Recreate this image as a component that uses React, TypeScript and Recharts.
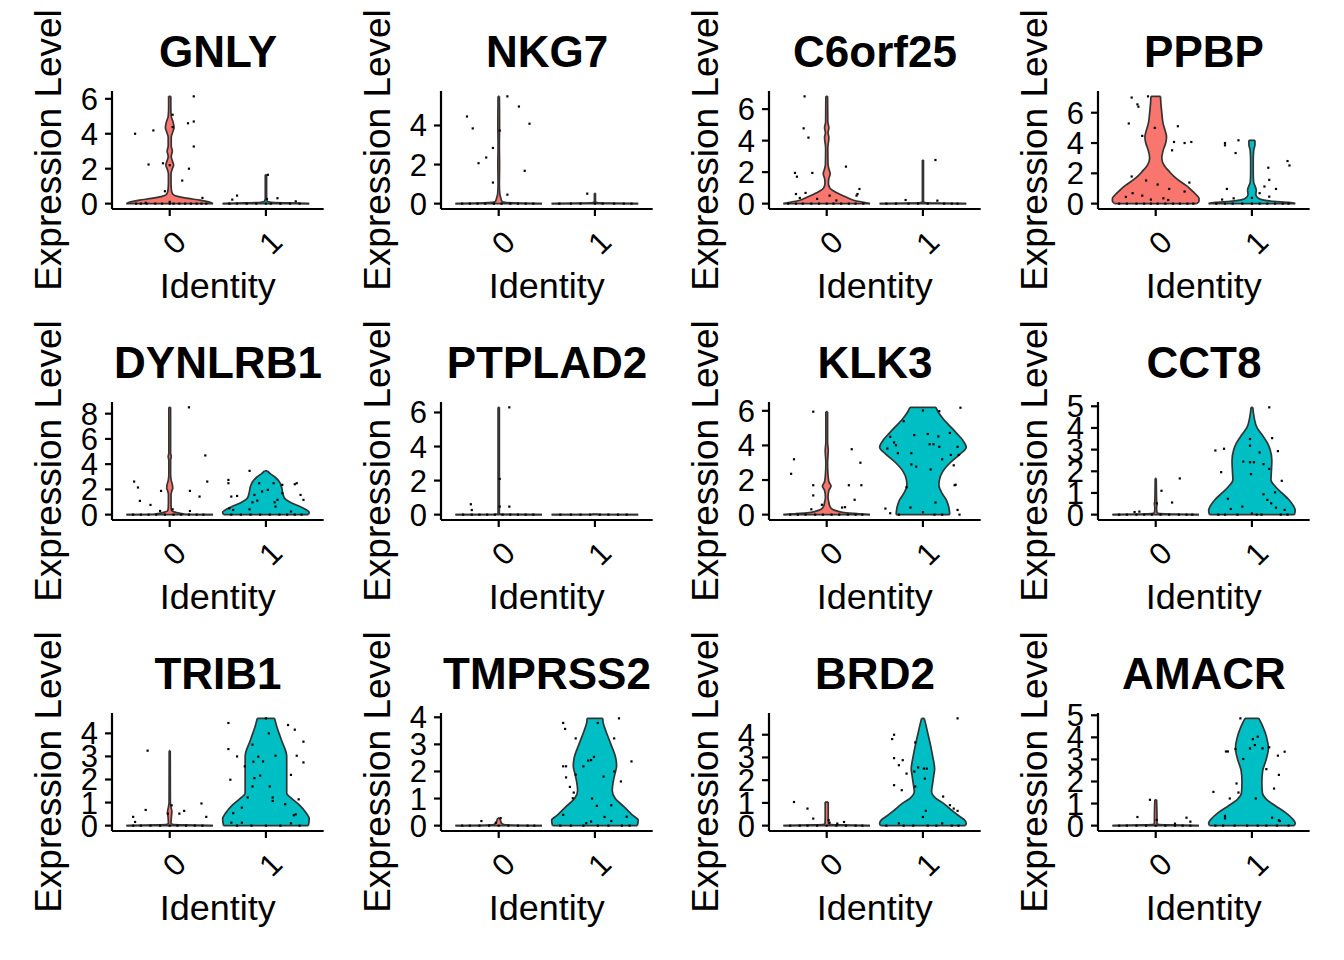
import React from "react";
import { ComposedChart, Area, Scatter, XAxis, YAxis, ReferenceLine, Label } from "recharts";

const FONT = '"Liberation Sans", Arial, Helvetica, sans-serif';
const FILLS = ["#F8766D", "#00BFC4"];
const OUTLINE = "#333333";
const IDENTS = [0, 1];

type Pair = [number, number];

// violin profiles: [expression, relative half-width (1 = widest)]
// points: [jitter offset, expression]

const GNLY_TICKS = [0, 2, 4, 6];
const GNLY_V0: Pair[] = [[0, 1], [0.1, 0.9], [0.2, 0.7], [0.3, 0.42], [0.4, 0.2], [0.5, 0.09], [0.65, 0.05], [0.9, 0.035], [1.2, 0.03], [1.7, 0.03], [2.0, 0.06], [2.2, 0.09], [2.45, 0.06], [2.7, 0.035], [3.0, 0.06], [3.3, 0.035], [3.8, 0.035], [4.1, 0.07], [4.35, 0.1], [4.65, 0.08], [5.0, 0.035], [5.5, 0.025], [6.14, 0.025]];
const GNLY_V1: Pair[] = [[0, 1], [0.04, 0.5], [0.08, 0.12], [0.15, 0.03], [0.3, 0.015], [1.65, 0.015]];
const GNLY_P0: Pair[] = [[-0.36, 4.0], [-0.17, 4.19], [-0.22, 2.24], [-0.07, 2.31], [0.03, 5.09], [0.25, 6.14], [0.19, 4.6], [0.25, 4.7], [0.25, 3.27], [0.2, 2.0], [0.13, 1.32], [-0.05, 0.71], [0.34, 0.33], [0.03, 4.38], [0, 2.2], [-0.25, 0.05], [0, 0.1], [-0.35, 0], [-0.3, 0], [-0.24, 0], [-0.15, 0], [-0.08, 0], [0, 0], [0.04, 0], [0.1, 0], [0.16, 0], [0.22, 0], [0.28, 0], [0.33, 0], [0.38, 0]];
const GNLY_P1: Pair[] = [[-0.3, 0.46], [-0.35, 0.23], [0.12, 0.31], [0.31, 0.13], [0.01, 0.27], [0.02, 1.65], [-0.38, 0], [-0.3, 0], [-0.2, 0], [-0.1, 0], [0, 0], [0.05, 0], [0.15, 0], [0.25, 0], [0.35, 0]];

const NKG7_TICKS = [0, 2, 4];
const NKG7_V0: Pair[] = [[0, 1], [0.03, 0.45], [0.06, 0.15], [0.1, 0.08], [0.2, 0.06], [0.35, 0.04], [0.5, 0.025], [1, 0.015], [2, 0.02], [3, 0.015], [4, 0.02], [5.49, 0.015]];
const NKG7_V1: Pair[] = [[0, 1], [0.03, 0.3], [0.06, 0.05], [0.1, 0.012], [0.53, 0.012]];
const NKG7_P0: Pair[] = [[-0.33, 4.46], [-0.27, 3.85], [-0.06, 2.85], [-0.13, 2.36], [-0.21, 2.07], [-0.06, 1.08], [0.09, 5.49], [0.21, 4.97], [0.32, 4.09], [0.27, 1.68], [0.09, 0.46], [0.01, 3.74], [-0.38, 0], [-0.3, 0], [-0.22, 0], [-0.14, 0], [-0.05, 0], [0.03, 0], [0.12, 0], [0.2, 0], [0.28, 0], [0.36, 0]];
const NKG7_P1: Pair[] = [[-0.08, 0.51], [-0.37, 0], [-0.25, 0], [-0.15, 0], [0, 0], [0.08, 0], [0.2, 0], [0.3, 0], [0.38, 0]];

const C6ORF25_TICKS = [0, 2, 4, 6];
const C6ORF25_V0: Pair[] = [[0, 1], [0.1, 0.82], [0.2, 0.64], [0.4, 0.46], [0.6, 0.3], [0.8, 0.16], [1.0, 0.07], [1.3, 0.04], [1.6, 0.05], [1.9, 0.08], [2.2, 0.05], [2.5, 0.03], [3.5, 0.025], [4.2, 0.05], [4.5, 0.03], [4.8, 0.05], [5.2, 0.025], [6.81, 0.02]];
const C6ORF25_V1: Pair[] = [[0, 1], [0.03, 0.3], [0.07, 0.05], [0.12, 0.012], [2.77, 0.012]];
const C6ORF25_P0: Pair[] = [[-0.23, 6.81], [-0.24, 4.78], [-0.19, 4.19], [-0.33, 1.95], [-0.31, 1.71], [-0.15, 1.95], [0.2, 2.35], [0.34, 0.93], [0.32, 0.61], [0.31, 0.51], [-0.32, 0.61], [-0.22, 0.68], [-0.28, 0.36], [0.03, 0.51], [-0.1, 0.3], [0.1, 0.2], [-0.4, 0], [-0.32, 0], [-0.25, 0], [-0.16, 0], [-0.08, 0], [0, 0], [0.07, 0], [0.15, 0], [0.23, 0], [0.3, 0], [0.38, 0]];
const C6ORF25_P1: Pair[] = [[0.13, 2.77], [0.15, 0.19], [-0.18, 0.23], [-0.38, 0], [-0.28, 0], [-0.15, 0], [-0.05, 0], [0.05, 0], [0.22, 0], [0.3, 0], [0.36, 0]];

const PPBP_TICKS = [0, 2, 4, 6];
const PPBP_V0: Pair[] = [[0, 0.95], [0.15, 1.0], [0.35, 1.0], [0.6, 0.93], [0.9, 0.82], [1.2, 0.7], [1.5, 0.55], [1.8, 0.42], [2.1, 0.32], [2.5, 0.2], [3.0, 0.14], [3.5, 0.17], [4.0, 0.23], [4.4, 0.25], [4.8, 0.22], [5.3, 0.17], [6.0, 0.14], [6.6, 0.12], [7.08, 0.11]];
const PPBP_V1: Pair[] = [[0, 1], [0.08, 0.85], [0.15, 0.5], [0.25, 0.25], [0.4, 0.13], [0.6, 0.09], [0.9, 0.1], [1.1, 0.08], [1.4, 0.04], [2.0, 0.03], [2.8, 0.03], [3.5, 0.04], [3.9, 0.07], [4.18, 0.07]];
const PPBP_P0: Pair[] = [[-0.25, 7.0], [-0.08, 7.08], [-0.19, 6.55], [-0.18, 6.4], [-0.28, 5.29], [-0.14, 4.47], [-0.01, 5.0], [0.23, 5.11], [0.19, 4.07], [0.17, 3.52], [0.3, 4.0], [0.37, 4.07], [-0.25, 1.79], [-0.1, 1.53], [0.02, 1.26], [0.14, 0.97], [0.35, 1.39], [0.3, 0.8], [-0.24, 0.69], [-0.14, 0.53], [-0.05, 0.27], [0.08, 0.35], [0.13, 0.24], [-0.31, 0.44], [-0.38, 0], [-0.3, 0], [-0.2, 0], [-0.12, 0], [-0.05, 0], [0.02, 0], [0.1, 0], [0.18, 0], [0.25, 0], [0.33, 0], [0.39, 0]];
const PPBP_P1: Pair[] = [[-0.28, 4.0], [-0.28, 3.85], [-0.14, 4.18], [-0.17, 3.34], [0.37, 2.81], [0.39, 2.52], [0.17, 2.37], [0.18, 1.57], [0.13, 1.13], [0.25, 0.97], [0.08, 0.69], [-0.26, 0.97], [-0.19, 0.35], [-0.31, 0.27], [0, 0.38], [0.18, 0.46], [-0.37, 0], [-0.28, 0], [-0.2, 0], [-0.1, 0], [0, 0], [0.08, 0], [0.16, 0], [0.24, 0], [0.32, 0], [0.38, 0]];

const DYNLRB1_TICKS = [0, 2, 4, 6, 8];
const DYNLRB1_V0: Pair[] = [[0, 1], [0.03, 0.35], [0.1, 0.25], [0.2, 0.12], [0.3, 0.05], [0.5, 0.035], [1.0, 0.03], [1.6, 0.03], [1.9, 0.05], [2.1, 0.07], [2.4, 0.06], [2.7, 0.035], [3.2, 0.02], [4.3, 0.02], [4.6, 0.035], [4.9, 0.02], [8.5, 0.02]];
const DYNLRB1_V1: Pair[] = [[0, 0.98], [0.2, 1.0], [0.4, 0.92], [0.7, 0.75], [1.0, 0.55], [1.3, 0.43], [1.7, 0.39], [2.2, 0.36], [2.6, 0.31], [3.0, 0.2], [3.25, 0.1], [3.47, 0.03]];
const DYNLRB1_P0: Pair[] = [[-0.37, 2.62], [-0.33, 2.15], [-0.31, 1.09], [-0.2, 0.77], [-0.09, 1.88], [0.2, 8.5], [0.37, 4.69], [0.39, 2.62], [0.21, 1.88], [0.31, 1.43], [-0.1, 0.29], [0.03, 0.42], [0.21, 0.29], [-0.38, 0], [-0.3, 0], [-0.22, 0], [-0.14, 0], [-0.05, 0], [0.04, 0], [0.12, 0], [0.2, 0], [0.28, 0], [0.35, 0]];
const DYNLRB1_P1: Pair[] = [[-0.17, 3.47], [-0.39, 2.75], [-0.39, 2.49], [-0.3, 1.48], [-0.36, 1.43], [-0.38, 0.5], [-0.34, 0.37], [-0.07, 2.49], [-0.04, 1.83], [-0.12, 1.56], [-0.09, 1.11], [0.02, 1.96], [0.08, 2.49], [0.17, 2.36], [0.17, 1.7], [0.12, 1.17], [0.09, 0.98], [0.1, 0.64], [0.26, 0.24], [0.3, 2.41], [0.32, 2.49], [0.36, 1.56], [0.39, 1.17], [-0.17, 0.42], [-0.14, 0.98], [-0.36, 0], [-0.26, 0], [-0.16, 0], [-0.06, 0], [0.04, 0], [0.14, 0], [0.22, 0], [0.3, 0], [0.37, 0]];

const PTPLAD2_TICKS = [0, 2, 4, 6];
const PTPLAD2_V0: Pair[] = [[0, 1], [0.02, 0.1], [0.05, 0.015], [6.3, 0.015]];
const PTPLAD2_V1: Pair[] = [[0, 1], [0.02, 0.08], [0.04, 0.01]];
const PTPLAD2_P0: Pair[] = [[0.11, 6.3], [0.01, 2.1], [-0.29, 0.61], [-0.28, 0.27], [0.11, 0.47], [0.01, 0.47], [-0.37, 0], [-0.28, 0], [-0.2, 0], [-0.12, 0], [-0.04, 0], [0.04, 0], [0.12, 0], [0.2, 0], [0.28, 0], [0.36, 0]];
const PTPLAD2_P1: Pair[] = [[-0.36, 0], [-0.25, 0], [-0.15, 0], [-0.05, 0], [0.05, 0], [0.14, 0], [0.24, 0], [0.33, 0]];

const KLK3_TICKS = [0, 2, 4, 6];
const KLK3_V0: Pair[] = [[0, 1], [0.05, 0.75], [0.1, 0.45], [0.2, 0.25], [0.3, 0.14], [0.5, 0.07], [0.7, 0.05], [1.0, 0.03], [1.4, 0.05], [1.65, 0.1], [1.9, 0.05], [2.3, 0.03], [3.0, 0.02], [3.7, 0.035], [4.2, 0.02], [5.95, 0.02]];
const KLK3_V1: Pair[] = [[0, 0.62], [0.4, 0.6], [0.8, 0.55], [1.2, 0.45], [1.7, 0.37], [2.0, 0.38], [2.5, 0.46], [3.0, 0.63], [3.5, 0.86], [3.9, 1.0], [4.3, 0.92], [4.7, 0.78], [5.0, 0.67], [5.5, 0.48], [5.9, 0.36], [6.2, 0.3]];
const KLK3_P0: Pair[] = [[-0.14, 5.95], [-0.34, 3.2], [-0.37, 2.36], [-0.14, 1.7], [-0.14, 1.11], [-0.05, 0.57], [0.26, 3.78], [0.35, 3.0], [0.23, 1.7], [0.36, 1.7], [0.29, 0.86], [0.16, 0.41], [0.19, 0.43], [-0.16, 0.31], [-0.38, 0], [-0.3, 0], [-0.22, 0], [-0.12, 0], [-0.04, 0], [0.05, 0], [0.13, 0], [0.22, 0], [0.3, 0], [0.37, 0]];
const KLK3_P1: Pair[] = [[0, 6.02], [0.17, 5.98], [0.39, 6.18], [-0.2, 5.4], [-0.34, 4.5], [-0.37, 3.82], [-0.3, 4.17], [-0.28, 4.01], [-0.26, 3.55], [-0.12, 3.55], [-0.09, 4.6], [0.05, 4.66], [0.16, 4.52], [0.07, 4.07], [0.11, 4.07], [0.17, 3.92], [0.28, 4.72], [0.36, 3.92], [0.37, 3.45], [0.2, 3.2], [0.29, 3.45], [-0.12, 2.9], [-0.07, 2.77], [0.08, 2.61], [0.32, 2.85], [0.34, 1.73], [0.33, 1.7], [-0.17, 1.58], [0.13, 0.7], [-0.13, 0.41], [0, 0.14], [0.36, 0.27], [-0.39, 0.35], [-0.34, 0.08], [0.38, 0], [0.12, 0], [0.2, 0], [-0.25, 0]];

const CCT8_TICKS = [0, 1, 2, 3, 4, 5];
const CCT8_V0: Pair[] = [[0, 1], [0.03, 0.3], [0.06, 0.06], [0.1, 0.03], [0.3, 0.02], [0.5, 0.03], [0.65, 0.02], [1.67, 0.012]];
const CCT8_V1: Pair[] = [[0, 0.98], [0.2, 1.0], [0.4, 0.96], [0.7, 0.85], [1.0, 0.69], [1.3, 0.54], [1.6, 0.44], [2.0, 0.45], [2.5, 0.46], [3.0, 0.42], [3.3, 0.36], [3.7, 0.23], [4.0, 0.12], [4.5, 0.05], [4.95, 0.02]];
const CCT8_P0: Pair[] = [[0.25, 1.67], [0.06, 1.1], [0.17, 0.56], [0.01, 0.52], [-0.22, 0.12], [-0.17, 0.14], [-0.38, 0], [-0.3, 0], [-0.2, 0], [-0.12, 0], [-0.04, 0], [0.05, 0], [0.14, 0], [0.24, 0], [0.32, 0], [0.38, 0]];
const CCT8_P1: Pair[] = [[0.18, 4.95], [0.21, 3.53], [-0.02, 3.49], [-0.02, 3.18], [-0.38, 2.96], [-0.29, 3.04], [0.27, 2.93], [0.08, 2.87], [-0.09, 2.45], [-0.02, 2.42], [0.02, 2.42], [0.12, 2.33], [0.18, 2.11], [-0.32, 1.96], [-0.01, 1.87], [0.31, 1.56], [0.24, 1.03], [0.12, 0.94], [-0.25, 0.73], [0.16, 0.68], [0.2, 0.52], [0.25, 0.32], [0.34, 0.22], [-0.1, 0.37], [-0.22, 0.26], [0, 0.06], [-0.35, 0], [-0.28, 0], [-0.15, 0], [0.05, 0], [0.1, 0], [0.3, 0], [0.37, 0]];

const TRIB1_TICKS = [0, 1, 2, 3, 4];
const TRIB1_V0: Pair[] = [[0, 1], [0.03, 0.3], [0.06, 0.06], [0.1, 0.03], [0.4, 0.04], [0.6, 0.05], [0.8, 0.03], [1.0, 0.015], [3.25, 0.012]];
const TRIB1_V1: Pair[] = [[0, 0.98], [0.3, 1.0], [0.55, 0.93], [0.9, 0.77], [1.2, 0.58], [1.4, 0.48], [2.0, 0.48], [3.0, 0.48], [3.7, 0.36], [4.3, 0.25], [4.65, 0.2]];
const TRIB1_P0: Pair[] = [[-0.23, 3.25], [-0.38, 0.38], [-0.36, 0.16], [-0.25, 0.68], [0.02, 0.88], [0.1, 0.52], [0.15, 0.64], [0.33, 0.96], [0.38, 0.38], [-0.02, 0.52], [-0.38, 0], [-0.3, 0], [-0.2, 0], [-0.1, 0], [0, 0], [0.08, 0], [0.17, 0], [0.26, 0], [0.34, 0]];
const TRIB1_P1: Pair[] = [[-0.39, 4.45], [-0.39, 3.32], [-0.3, 3.0], [-0.37, 1.99], [-0.22, 2.57], [-0.14, 3.51], [-0.13, 2.77], [-0.12, 2.06], [-0.14, 1.7], [-0.19, 1.22], [-0.25, 0.78], [-0.34, 0.54], [-0.36, 0.13], [-0.25, 0.13], [-0.03, 2.78], [-0.08, 2.99], [-0.06, 2.17], [0.03, 4.0], [0.1, 3.03], [0.04, 1.7], [0.07, 1.22], [0.07, 1.07], [0.2, 0.93], [0.23, 4.36], [0.3, 4.16], [0.32, 3.03], [0.26, 2.2], [0.39, 3.64], [0.39, 2.74], [0.34, 1.14], [0.31, 0.49], [0.29, 0.45], [0.26, 0.1], [0, 4.65], [-0.3, 0], [-0.15, 0], [0, 0], [0.15, 0], [0.35, 0]];

const TMPRSS2_TICKS = [0, 1, 2, 3, 4];
const TMPRSS2_V0: Pair[] = [[0, 1], [0.02, 0.25], [0.05, 0.1], [0.1, 0.06], [0.2, 0.04], [0.28, 0.02]];
const TMPRSS2_V1: Pair[] = [[0, 0.98], [0.2, 1.0], [0.4, 0.86], [0.7, 0.67], [1.0, 0.47], [1.3, 0.4], [1.6, 0.42], [1.9, 0.46], [2.2, 0.5], [2.5, 0.48], [3.0, 0.37], [3.5, 0.25], [3.8, 0.19], [3.96, 0.18]];
const TMPRSS2_P0: Pair[] = [[-0.18, 0.17], [-0.03, 0.11], [0.02, 0.28], [-0.38, 0], [-0.3, 0], [-0.2, 0], [-0.1, 0], [0, 0], [0.1, 0], [0.2, 0], [0.3, 0], [0.37, 0]];
const TMPRSS2_P1: Pair[] = [[-0.33, 3.79], [-0.31, 3.57], [-0.2, 3.22], [-0.33, 2.19], [-0.3, 2.19], [-0.3, 1.78], [-0.2, 1.88], [-0.26, 1.43], [-0.22, 1.22], [-0.23, 1.01], [-0.33, 0.4], [-0.12, 2.19], [-0.07, 2.4], [-0.04, 2.42], [-0.01, 2.54], [0.03, 3.79], [0.09, 1.81], [-0.03, 1.0], [0.02, 0.73], [0.17, 0.75], [0.2, 3.22], [0.2, 2.0], [0.27, 1.63], [0.25, 3.96], [0.38, 2.37], [0.33, 0.33], [0.1, 0.32], [0.17, 0.17], [-0.09, 0.09], [-0.04, 0.15], [-0.36, 0], [-0.25, 0], [-0.12, 0], [0.03, 0], [0.14, 0], [0.28, 0], [0.36, 0]];

const BRD2_TICKS = [0, 1, 2, 3, 4];
const BRD2_V0: Pair[] = [[0, 1], [0.03, 0.3], [0.06, 0.06], [0.1, 0.04], [0.4, 0.035], [1.04, 0.035]];
const BRD2_V1: Pair[] = [[0, 0.98], [0.1, 1.0], [0.25, 0.96], [0.4, 0.85], [0.7, 0.65], [1.0, 0.46], [1.2, 0.3], [1.5, 0.2], [1.8, 0.22], [2.2, 0.25], [2.5, 0.27], [3.0, 0.23], [3.5, 0.18], [4.0, 0.12], [4.5, 0.06], [4.72, 0.03]];
const BRD2_P0: Pair[] = [[-0.34, 1.04], [-0.2, 0.75], [-0.14, 0.31], [0.02, 0.24], [0.03, 0.13], [0.11, 0.09], [0.18, 0.16], [-0.38, 0], [-0.28, 0], [-0.2, 0], [-0.1, 0], [0, 0], [0.1, 0], [0.2, 0], [0.3, 0], [0.37, 0]];
const BRD2_P1: Pair[] = [[0.36, 4.72], [-0.3, 4.0], [-0.32, 3.81], [-0.08, 3.66], [-0.3, 2.97], [-0.25, 2.66], [-0.21, 2.88], [-0.17, 2.29], [-0.09, 2.38], [-0.05, 2.56], [0.01, 2.51], [0.04, 2.51], [0.02, 2.07], [-0.08, 1.72], [-0.3, 1.78], [-0.22, 1.56], [0.21, 1.28], [0.28, 0.9], [0.32, 0.75], [0.36, 0.65], [0.03, 0.65], [0, 0.38], [0.2, 0.1], [-0.25, 0.1], [-0.38, 0], [-0.2, 0], [-0.1, 0], [0.05, 0], [0.14, 0], [0.3, 0], [0.37, 0]];

const AMACR_TICKS = [0, 1, 2, 3, 4, 5];
const AMACR_V0: Pair[] = [[0, 1], [0.03, 0.3], [0.06, 0.05], [0.1, 0.03], [0.3, 0.03], [1.17, 0.02]];
const AMACR_V1: Pair[] = [[0, 0.98], [0.12, 1.0], [0.3, 0.94], [0.6, 0.77], [0.9, 0.54], [1.2, 0.33], [1.5, 0.24], [2.0, 0.23], [2.5, 0.25], [3.0, 0.33], [3.5, 0.38], [4.0, 0.34], [4.5, 0.25], [4.86, 0.16]];
const AMACR_P0: Pair[] = [[-0.06, 1.17], [-0.19, 0.39], [0.01, 0.26], [0.32, 0.36], [0.36, 0.18], [0.2, 0.09], [-0.38, 0], [-0.3, 0], [-0.2, 0], [-0.1, 0], [0, 0], [0.1, 0], [0.2, 0], [0.28, 0], [0.36, 0]];
const AMACR_P1: Pair[] = [[-0.12, 4.86], [0.01, 3.92], [0.06, 4.03], [0.03, 3.65], [-0.02, 3.5], [0.11, 3.5], [0.18, 3.55], [-0.27, 3.36], [-0.25, 3.36], [-0.17, 3.47], [0.34, 3.35], [0.27, 3.17], [-0.09, 3.02], [0.15, 2.56], [0.28, 2.3], [-0.16, 1.91], [0.23, 1.68], [-0.4, 1.53], [-0.14, 1.5], [-0.23, 1.23], [0.04, 1.23], [-0.28, 0.44], [-0.28, 0.33], [0.21, 0.36], [0.28, 0.24], [0.29, 0.21], [-0.38, 0], [-0.3, 0], [-0.18, 0], [-0.05, 0], [0.06, 0], [0.15, 0], [0.26, 0], [0.38, 0]];

type Panel = { gene: string; ticks: number[]; violins: Pair[][]; points: Pair[][] };

const PANELS: Panel[] = [
  { gene: "GNLY", ticks: GNLY_TICKS, violins: [GNLY_V0, GNLY_V1], points: [GNLY_P0, GNLY_P1] },
  { gene: "NKG7", ticks: NKG7_TICKS, violins: [NKG7_V0, NKG7_V1], points: [NKG7_P0, NKG7_P1] },
  { gene: "C6orf25", ticks: C6ORF25_TICKS, violins: [C6ORF25_V0, C6ORF25_V1], points: [C6ORF25_P0, C6ORF25_P1] },
  { gene: "PPBP", ticks: PPBP_TICKS, violins: [PPBP_V0, PPBP_V1], points: [PPBP_P0, PPBP_P1] },
  { gene: "DYNLRB1", ticks: DYNLRB1_TICKS, violins: [DYNLRB1_V0, DYNLRB1_V1], points: [DYNLRB1_P0, DYNLRB1_P1] },
  { gene: "PTPLAD2", ticks: PTPLAD2_TICKS, violins: [PTPLAD2_V0, PTPLAD2_V1], points: [PTPLAD2_P0, PTPLAD2_P1] },
  { gene: "KLK3", ticks: KLK3_TICKS, violins: [KLK3_V0, KLK3_V1], points: [KLK3_P0, KLK3_P1] },
  { gene: "CCT8", ticks: CCT8_TICKS, violins: [CCT8_V0, CCT8_V1], points: [CCT8_P0, CCT8_P1] },
  { gene: "TRIB1", ticks: TRIB1_TICKS, violins: [TRIB1_V0, TRIB1_V1], points: [TRIB1_P0, TRIB1_P1] },
  { gene: "TMPRSS2", ticks: TMPRSS2_TICKS, violins: [TMPRSS2_V0, TMPRSS2_V1], points: [TMPRSS2_P0, TMPRSS2_P1] },
  { gene: "BRD2", ticks: BRD2_TICKS, violins: [BRD2_V0, BRD2_V1], points: [BRD2_P0, BRD2_P1] },
  { gene: "AMACR", ticks: AMACR_TICKS, violins: [AMACR_V0, AMACR_V1], points: [AMACR_P0, AMACR_P1] },
];

const HALF = 0.45; // geom_violin width 0.9
const PANEL_W = 328.67;
const PANEL_H = 311;

const XTick = (props: any) => {
  const { x, y, payload } = props;
  const ax = x + 2.7;
  return (
    <text
      x={ax}
      y={y}
      dy="0.71em"
      transform={`rotate(-45, ${ax}, ${y})`}
      textAnchor="end"
      fontSize={31}
      fontFamily={FONT}
      fill="#000"
    >
      {payload.value}
    </text>
  );
};

function VlnPanel({ panel }: { panel: Panel }) {
  // one row per profile point; the other group's column is a null range so its outline breaks
  const rows: any[] = [];
  panel.violins.forEach((v, g) => {
    v.forEach(([y, w]) => {
      const row: any = { y };
      IDENTS.forEach((c, k) => {
        row["g" + k] = k === g ? [c - HALF * w, c + HALF * w] : [null, null];
      });
      rows.push(row);
    });
  });
  const allY = [
    ...panel.violins.flat().map((d) => d[0]),
    ...panel.points.flat().map((d) => d[1]),
  ];
  const yMax = Math.max(...allY);
  const domain = [-0.05 * yMax, 1.05 * yMax];

  return (
    <ComposedChart
      layout="vertical"
      width={PANEL_W}
      height={PANEL_H}
      data={rows}
      margin={{ top: 91, right: 5, bottom: 0, left: 0 }}
    >
      <XAxis
        type="number"
        domain={[-0.6, 1.6]}
        ticks={IDENTS}
        allowDataOverflow
        height={102}
        tickSize={7}
        tickMargin={12.5}
        interval={0}
        axisLine={{ stroke: "#000", strokeWidth: 2.2 }}
        tickLine={{ stroke: "#000", strokeWidth: 2.2 }}
        tick={<XTick />}
      >
        <Label value="Identity" position="insideBottom" offset={13} fontSize={36} fontFamily={FONT} fill="#000" />
      </XAxis>
      <YAxis
        type="number"
        dataKey="y"
        domain={domain}
        ticks={panel.ticks}
        allowDataOverflow
        reversed
        interval={0}
        width={112}
        tickSize={7}
        tickMargin={7}
        axisLine={{ stroke: "#000", strokeWidth: 2.2 }}
        tickLine={{ stroke: "#000", strokeWidth: 2.2 }}
        tick={{ fill: "#000", fontSize: 31, fontFamily: FONT }}
      >
        <Label value="Expression Level" angle={-90} position="center" dx={-7.7} fontSize={37} fontFamily={FONT} fill="#000" />
      </YAxis>
      {panel.violins.map((v, g) => (
        <Area
          key={"a" + g}
          dataKey={"g" + g}
          type="monotone"
          fill={FILLS[g]}
          fillOpacity={1}
          stroke={OUTLINE}
          strokeWidth={1.7}
          dot={false}
          activeDot={false}
          isAnimationActive={false}
        />
      ))}
      {panel.violins.map((v, g) =>
        [v[0], v[v.length - 1]].map(([y, w], k) => (
          <ReferenceLine
            key={"c" + g + k}
            segment={[
              { x: IDENTS[g] - HALF * w, y },
              { x: IDENTS[g] + HALF * w, y },
            ]}
            stroke={OUTLINE}
            strokeWidth={1.7}
          />
        ))
      )}
      {panel.points.map((pts, g) => (
        <Scatter
          key={"s" + g}
          data={pts.map(([j, y]) => ({ x: IDENTS[g] + j, y }))}
          dataKey="x"
          fill="#000"
          isAnimationActive={false}
          shape={(p: any) => <rect x={p.cx - 1.1} y={p.cy - 1.1} width={2.2} height={2.2} fill="#000" />}
        />
      ))}
    </ComposedChart>
  );
}

export default function App() {
  return (
    <div style={{ position: "absolute", left: 0, top: 0, width: 1344, height: 960, background: "#fff" }}>
      {PANELS.map((panel, i) => {
        const col = i % 4;
        const row = Math.floor(i / 4);
        return (
          <div
            key={panel.gene}
            style={{ position: "absolute", left: col * PANEL_W, top: row * PANEL_H, width: PANEL_W, height: PANEL_H }}
          >
            <VlnPanel panel={panel} />
            <svg
              width={PANEL_W}
              height={90}
              style={{ position: "absolute", left: 0, top: 0, pointerEvents: "none" }}
            >
              <text x={218} y={67} textAnchor="middle" fontSize={44} fontWeight={700} fontFamily={FONT} fill="#000">
                {panel.gene}
              </text>
            </svg>
          </div>
        );
      })}
    </div>
  );
}
